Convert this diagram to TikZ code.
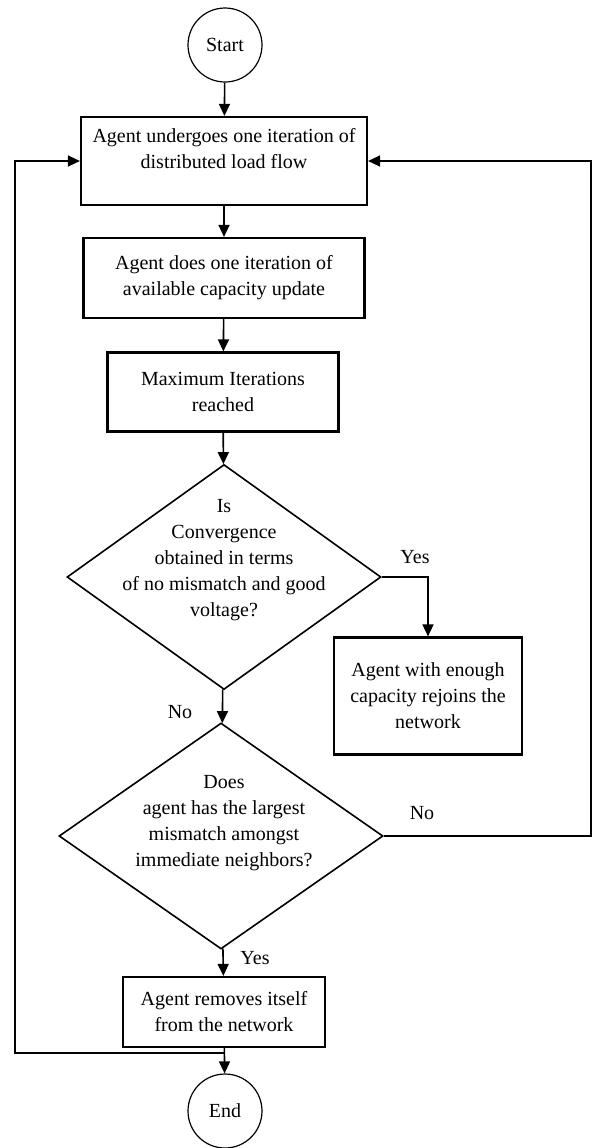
\documentclass[tikz,border=0pt]{standalone}
\usepackage{fontspec}
\setmainfont{Liberation Serif}
\usetikzlibrary{shapes.geometric,arrows.meta}

\begin{document}
\begin{tikzpicture}[x=0.5pt,y=-0.5pt,
    every node/.style={font=\fontsize{10}{13}\selectfont},
    term/.style={draw,circle,line width=0.6pt,minimum size=37pt,inner sep=0pt},
    box/.style={draw,rectangle,line width=1.1pt,align=center,inner sep=0pt},
    decision/.style={draw,diamond,line width=0.8pt,inner sep=0pt},
    flow/.style={line width=0.8pt,-{Triangle[length=6pt,width=5.5pt]}}]
  \useasboundingbox (0,0) rectangle (592,1148);

  % main column
  \node[term] (start) at (225,45) {Start};
  \node[box,minimum width=143pt,minimum height=44pt] (load) at (224,161)
    {Agent undergoes one iteration of\\distributed load flow\\\mbox{}};
  \node[box,minimum width=140.5pt,minimum height=40pt] (capacity) at (224,278)
    {Agent does one iteration of\\available capacity update};
  \node[box,minimum width=115.5pt,minimum height=39.5pt] (maxit) at (223,392)
    {Maximum Iterations\\reached};
  \node[decision,minimum width=157pt,minimum height=112.5pt] (conv) at (224,577) {};
  \node[align=center] (convtext) at (224,560)
    {Is\\Convergence\\obtained in terms\\of no mismatch and good\\voltage?};
  \node[box,minimum width=94pt,minimum height=58.5pt] (rejoin) at (428,696)
    {Agent with enough\\capacity rejoins the\\network};
  \node[decision,minimum width=162pt,minimum height=113pt] (largest) at (221,836) {};
  \node[align=center] (largesttext) at (224,823)
    {Does\\agent has the largest\\mismatch amongst\\immediate neighbors?};
  \node[box,minimum width=101pt,minimum height=35pt] (remove) at (224,1012)
    {Agent removes itself\\from the network};
  \node[term] (end) at (225,1111) {End};

  % labels
  \node (yesconv) at (415,557) {Yes};
  \node (noconv) at (180,712) {No};
  \node (nolargest) at (422,813) {No};
  \node (yeslargest) at (255,958) {Yes};

  % rails
  \coordinate (rx) at (591,0);
  \coordinate (rightrail) at (largest.east -| rx);
  \coordinate (split) at (224,1053);
  \coordinate (leftrail) at (15,161);

  \draw[flow] (start) -- (load);
  \draw[flow] (load) -- (capacity);
  \draw[flow] (capacity) -- (maxit);
  \draw[flow] (maxit) -- (conv);
  \draw[flow] (conv) -- (largest);
  \draw[flow] (conv.east) -| (rejoin.north);
  \draw[flow] (largest) -- (remove);
  \draw[flow] (remove) -- (end);
  \draw[flow] (largest.east) -- (rightrail) |- (load.east);
  \draw[flow] (split) -| (leftrail) -- (load.west);
\end{tikzpicture}
\end{document}
